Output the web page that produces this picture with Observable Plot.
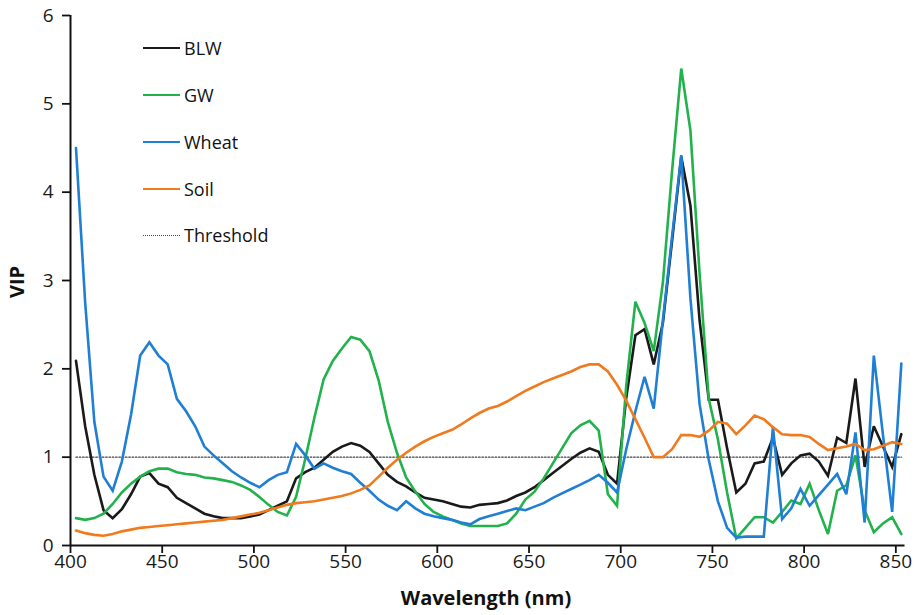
<!DOCTYPE html>
<html>
<head>
<meta charset="utf-8">
<script src="https://cdn.jsdelivr.net/npm/d3@7"></script>
<script src="https://cdn.jsdelivr.net/npm/@observablehq/plot@0.6"></script>
<style>
  body { margin: 0; background: #fff; }
  #wrap { position: relative; width: 923px; height: 615px; font-family: "Open Sans", sans-serif; }
  .leg { position: absolute; left: 143px; height: 24px; display: flex; align-items: center; font-size: 18px; color: #111; }
  .leg .sw { width: 37px; height: 0; margin-right: 4px; }
</style>
</head>
<body>
<div id="wrap"></div>
<script>
const wavelengths = [403,408,413,418,423,428,433,438,443,448,
453,458,463,468,473,478,483,488,493,498,
503,508,513,518,523,528,533,538,543,548,
553,558,563,568,573,578,583,588,593,598,
603,608,613,618,623,628,633,638,643,648,
653,658,663,668,673,678,683,688,693,698,
703,708,713,718,723,728,733,738,743,748,
753,758,763,768,773,778,783,788,793,798,
803,808,813,818,823,828,833,838,843,848,
853];

const blw = [2.09,1.35,0.80,0.40,0.31,0.41,0.58,0.78,0.82,0.70,
0.66,0.54,0.48,0.42,0.36,0.33,0.31,0.31,0.31,0.33,
0.35,0.40,0.45,0.50,0.76,0.83,0.88,0.97,1.06,1.12,
1.16,1.13,1.06,0.93,0.80,0.72,0.67,0.60,0.54,0.52,
0.50,0.47,0.44,0.43,0.46,0.47,0.48,0.51,0.56,0.60,
0.66,0.74,0.82,0.90,0.98,1.05,1.10,1.06,0.80,0.70,
1.67,2.38,2.45,2.05,2.52,3.45,4.40,3.85,2.55,1.65,
1.65,1.10,0.60,0.70,0.93,0.95,1.22,0.80,0.93,1.02,
1.04,0.95,0.79,1.22,1.16,1.89,0.89,1.35,1.12,0.89,
1.26];

const gw = [0.31,0.29,0.31,0.36,0.47,0.60,0.70,0.78,0.84,0.87,
0.87,0.83,0.81,0.80,0.77,0.76,0.74,0.72,0.68,0.63,
0.55,0.46,0.38,0.34,0.55,0.98,1.45,1.88,2.09,2.23,
2.36,2.33,2.20,1.87,1.40,1.05,0.77,0.61,0.47,0.38,
0.33,0.29,0.25,0.22,0.22,0.22,0.22,0.25,0.36,0.52,
0.61,0.76,0.93,1.10,1.27,1.36,1.41,1.30,0.58,0.45,
1.81,2.76,2.52,2.20,2.98,4.24,5.40,4.70,3.08,1.66,
1.20,0.60,0.08,0.20,0.32,0.32,0.26,0.38,0.51,0.47,
0.70,0.40,0.13,0.62,0.68,1.02,0.40,0.15,0.25,0.32,
0.13];

const wheat = [4.50,2.75,1.40,0.78,0.62,0.95,1.48,2.15,2.30,2.15,
2.05,1.66,1.52,1.35,1.12,1.02,0.93,0.84,0.77,0.71,
0.66,0.74,0.80,0.83,1.15,1.02,0.87,0.93,0.88,0.84,
0.81,0.71,0.62,0.52,0.45,0.40,0.50,0.42,0.36,0.33,
0.31,0.29,0.26,0.24,0.30,0.33,0.36,0.39,0.42,0.40,
0.44,0.48,0.54,0.59,0.64,0.69,0.74,0.80,0.71,0.60,
1.09,1.52,1.91,1.55,2.55,3.50,4.42,2.80,1.60,0.97,
0.50,0.20,0.09,0.10,0.10,0.10,1.34,0.30,0.42,0.64,
0.45,0.57,0.69,0.81,0.58,1.28,0.26,2.15,1.25,0.38,
2.06];

const soil = [0.17,0.14,0.12,0.11,0.13,0.16,0.18,0.20,0.21,0.22,
0.23,0.24,0.25,0.26,0.27,0.28,0.29,0.31,0.33,0.35,
0.37,0.40,0.43,0.46,0.48,0.49,0.50,0.52,0.54,0.56,
0.59,0.63,0.68,0.78,0.88,0.97,1.05,1.12,1.18,1.23,
1.27,1.31,1.37,1.44,1.50,1.55,1.58,1.63,1.69,1.75,
1.80,1.85,1.89,1.93,1.97,2.02,2.05,2.05,1.97,1.82,
1.64,1.43,1.22,1.00,1.00,1.09,1.25,1.25,1.23,1.30,
1.40,1.38,1.26,1.36,1.47,1.43,1.34,1.26,1.25,1.25,
1.23,1.15,1.08,1.10,1.12,1.15,1.08,1.09,1.13,1.17,
1.15];

const thresholdValue = 1;
const seriesNames = ["BLW", "GW", "Wheat", "Soil"];
const seriesColors = ["#1a1a1a", "#22b24c", "#1f7fd4", "#f07a1e"];
const xTicks = [400,450,500,550,600,650,700,750,800,850];
const yTicks = [0,1,2,3,4,5,6];
const xLabel = "Wavelength (nm)";
const yLabel = "VIP";

const seriesValues = [blw, gw, wheat, soil];
const rows = [];
seriesNames.forEach((name, i) => {
  wavelengths.forEach((w, j) => rows.push({series: name, w, v: seriesValues[i][j]}));
});
const thresholdRows = wavelengths.map(w => ({w, v: thresholdValue}));

const chart = Plot.plot({
  width: 923,
  height: 615,
  marginLeft: 70,
  marginRight: 18.5,
  marginTop: 15,
  marginBottom: 70,
  style: {fontFamily: "'Open Sans', sans-serif", fontSize: "19px", color: "#1a1a1a", background: "white"},
  x: {domain: [400, 855]},
  y: {domain: [0, 6]},
  color: {domain: seriesNames, range: seriesColors},
  marks: [
    Plot.line(thresholdRows, {x: "w", y: "v", stroke: "#444", strokeWidth: 1.3, strokeDasharray: "1.5,1.8"}),
    Plot.line(rows, {x: "w", y: "v", z: "series", stroke: "series", strokeWidth: 2.6, strokeLinejoin: "miter", strokeMiterlimit: 3}),
    Plot.axisX({ticks: xTicks, tickFormat: d3.format("d"), tickSize: 8, tickPadding: 1, label: null, strokeWidth: 1.8, stroke: "#111"}),
    Plot.axisY({ticks: yTicks, tickFormat: d3.format("d"), tickSize: 8, tickPadding: 9, label: null, strokeWidth: 1.8, stroke: "#111"}),
    Plot.ruleY([0], {stroke: "#111", strokeWidth: 2}),
    Plot.ruleX([400], {stroke: "#111", strokeWidth: 2})
  ]
});

const svg = d3.select(chart);
svg.append("text")
  .attr("x", 486).attr("y", 600)
  .attr("text-anchor", "middle").attr("dominant-baseline", "middle")
  .attr("font-size", 20).attr("font-weight", "bold").attr("fill", "#111")
  .text(xLabel);
svg.append("text")
  .attr("transform", "translate(19,282) rotate(-90)")
  .attr("text-anchor", "middle").attr("dominant-baseline", "middle")
  .attr("font-size", 20).attr("font-weight", "bold").attr("fill", "#111")
  .text(yLabel);

const wrap = document.getElementById("wrap");
wrap.appendChild(chart);

const legendItems = seriesNames.map((n, i) => ({name: n, color: seriesColors[i], dotted: false}))
  .concat([{name: "Threshold", color: "#444", dotted: true}]);
const legendCenters = [48, 95, 142, 189, 235];
legendItems.forEach((it, i) => {
  const row = document.createElement("div");
  row.className = "leg";
  row.style.top = (legendCenters[i] - 12) + "px";
  const sw = document.createElement("span");
  sw.className = "sw";
  sw.style.borderTop = it.dotted ? `1.3px dotted ${it.color}` : `2.6px solid ${it.color}`;
  const tx = document.createElement("span");
  tx.textContent = it.name;
  row.appendChild(sw);
  row.appendChild(tx);
  wrap.appendChild(row);
});
</script>
</body>
</html>
